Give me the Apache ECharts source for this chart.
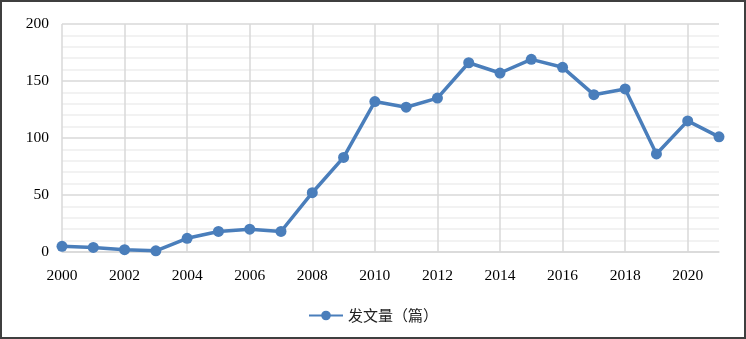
<!DOCTYPE html>
<html><head><meta charset="utf-8">
<script src="https://cdn.jsdelivr.net/npm/echarts@6/dist/echarts.min.js"></script>
<style>html,body{margin:0;padding:0;background:#fff}#c{width:746px;height:339px;box-sizing:border-box;border:2px solid #3f3f3f}</style>
</head><body><div id="c"></div>
<script>
const years = ['2000','2001','2002','2003','2004','2005','2006','2007','2008','2009','2010','2011','2012','2013','2014','2015','2016','2017','2018','2019','2020','2021'];
const counts = [5,4,2,1,12,18,20,18,52,83,132,127,135,166,157,169,162,138,143,86,115,101];
const seriesName = '发文量（篇）';
const chart = echarts.init(document.getElementById('c'), null, {renderer:'canvas'});
const font = '"Liberation Serif","Times New Roman","Noto Sans CJK SC",serif';
chart.setOption({
  animation:false,
  grid:{left:60,right:25,top:22,bottom:85,containLabel:false},
  legend:{bottom:9,left:'center',itemWidth:34,itemHeight:12,itemGap:10,
    textStyle:{fontFamily:'"Noto Sans CJK SC",serif',fontSize:15,color:'#222'},
    data:[{name:seriesName}]},
  xAxis:{type:'category',data:years,boundaryGap:false,
    axisLine:{lineStyle:{color:'#d9d9d9',width:1.5}},axisTick:{show:false},
    axisLabel:{interval:1,color:'#000',fontFamily:font,fontSize:15.5,margin:16},
    splitLine:{show:true,interval:1,lineStyle:{color:'#d9d9d9',width:1.5}}},
  yAxis:{type:'value',min:0,max:200,interval:50,
    axisLine:{show:false},axisTick:{show:false},
    axisLabel:{color:'#000',fontFamily:font,fontSize:15.5,margin:13},
    splitLine:{lineStyle:{color:'#d9d9d9',width:1.5}},
    minorTick:{show:false,splitNumber:5},
    minorSplitLine:{show:true,lineStyle:{color:'#eeeeee',width:1.5}}},
  series:[{name:seriesName,type:'line',data:counts,symbol:'circle',symbolSize:11,
    lineStyle:{color:'#4a7ebb',width:3.5},itemStyle:{color:'#4a7ebb'}}]
});
</script></body></html>
